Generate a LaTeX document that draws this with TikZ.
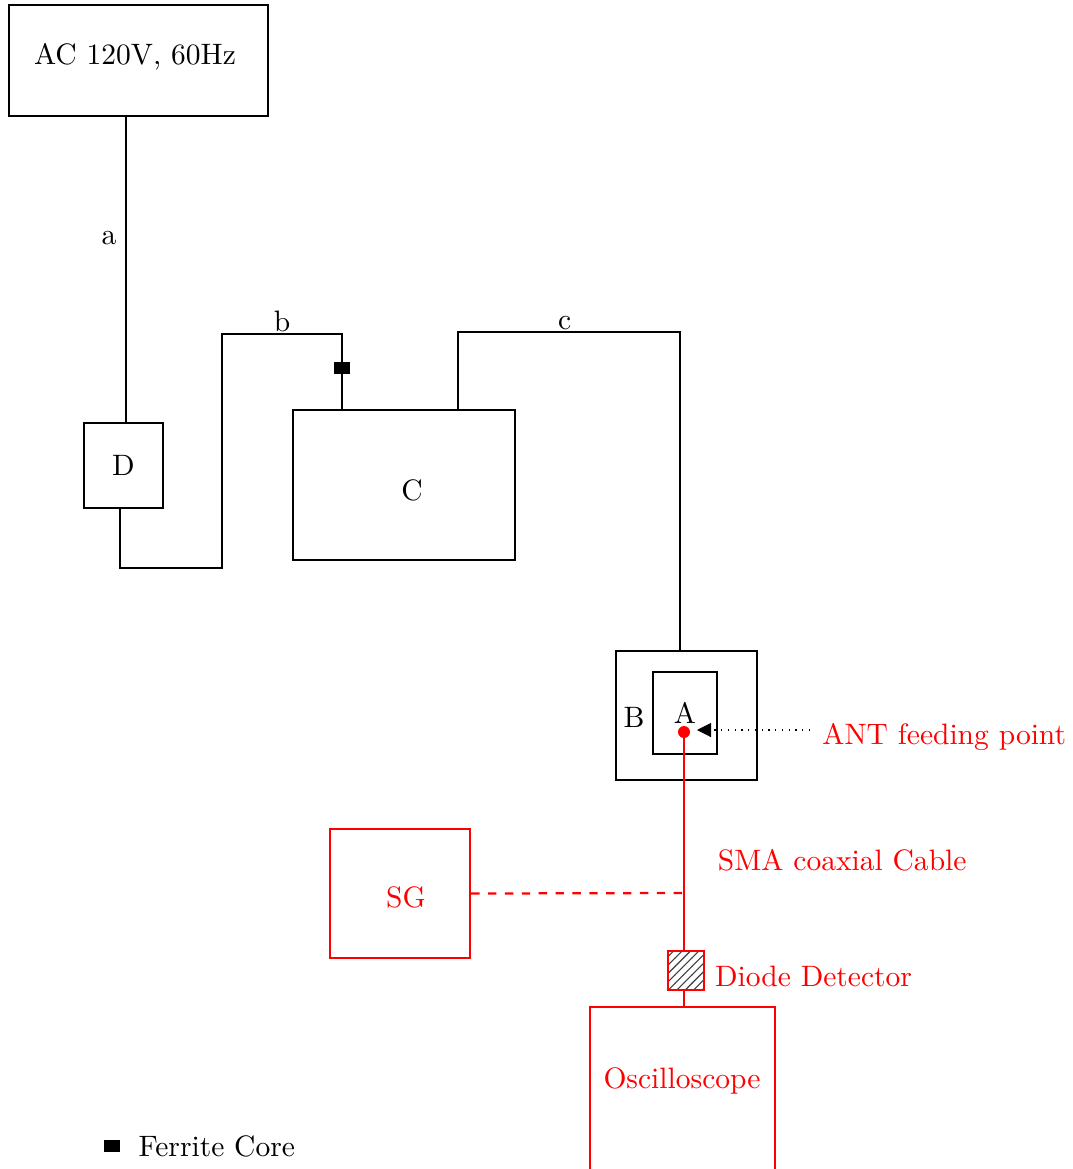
\documentclass[tikz,border=0pt]{standalone}
\usetikzlibrary{arrows.meta, positioning, patterns}

\begin{document}
\begin{tikzpicture}[
    x=0.0125cm, y=-0.0125cm, >=Stealth,
    font=\fontsize{10.5}{13}\selectfont,
    box/.style={draw, line width=0.8pt, inner sep=0pt},
    rfbox/.style={box, draw=red, text=red},
    wire/.style={line width=0.8pt},
    rfwire/.style={wire, red},
    corebox/.style={fill=black, minimum width=0.2cm, minimum height=0.16cm,
                    inner sep=0pt}
  ]
  \useasboundingbox (0,0) rectangle (1072,1169);
  \clip (0,0) rectangle (1072,1169);

  \node[box, minimum width=3.24cm, minimum height=1.39cm] (ac) at (138.5,60.5) {};
  \node (aclabel) at (135,57) {AC 120V, 60Hz};
  \node[box, minimum width=0.99cm, minimum height=1.06cm] (D) at (123.5,465.5) {D};
  \node[box, minimum width=2.78cm, minimum height=1.875cm] (C) at (404,485) {};
  \node (clabel) at (412,490) {C};
  \node[box, minimum width=1.76cm, minimum height=1.61cm] (B) at (686.5,715.5) {};
  \node (blabel) at (634,717) {B};
  \node[box, minimum width=0.8cm, minimum height=1.025cm] (A) at (685,713) {A};
  \node[corebox] (core) at (342,368) {};

  \draw[wire] ([xshift=0.03cm]D.north) -- ([xshift=0.03cm]D.north |- ac.south);
  \node (alabel) at (109,238) {a};

  \coordinate (b0) at (222,568);
  \coordinate (b1) at (222,334);
  \draw[wire] ([xshift=-0.045cm]D.south) |- (b0) -- (b1)
    -| node[pos=0.25, above=-3pt] {b}
    (core.center) -- (core.center |- C.north);

  \coordinate (c0) at (458,332);
  \coordinate (c1) at (680,332);
  \draw[wire] (c0 |- C.north) -- (c0) -- node[pos=0.48, above=-3pt] {c} (c1)
    -- (c1 |- B.north);

  \node[circle, fill=red, inner sep=0pt, minimum size=0.15cm] (dot) at (684,732) {};
  \node[text=red, anchor=east] (ant) at (1076,737) {ANT feeding point};
  \coordinate (feed) at (697,730);
  \coordinate (feedtail) at (810,730);
  \draw[dotted, -{Triangle[length=5pt, width=5pt]}] (feedtail) -- (feed);

  \node[rfbox, minimum width=1.75cm, minimum height=1.61cm] (SG) at (400,893.5) {};
  \node[text=red] (sglabel) at (406,897) {SG};
  \node[rfbox, pattern=north east lines, pattern color=darkgray,
        minimum width=0.45cm, minimum height=0.49cm] (diode) at (686,970.5) {};
  \node[rfbox, minimum width=2.31cm, minimum height=2.5cm, anchor=north]
    (osc) at (682.5,1006) {};
  \node[text=red] (osclabel) at (682,1081) {Oscilloscope};

  \coordinate (tap) at (684,893);
  \draw[rfwire] (dot.center) -- (dot.center |- diode.north);
  \draw[rfwire] (diode.south -| dot) -- (osc.north -| dot);
  \draw[rfwire, dashed] (SG.east) -- (tap);

  \node[text=red, anchor=west] (sma) at (708,860) {SMA coaxial Cable};
  \node[text=red, right=0pt of diode, yshift=-2pt] (diodelabel) {Diode Detector};

  \node[corebox, minimum height=0.15cm] (legcore) at (112,1146) {};
  \node[right=0.1cm of legcore] (legtext) {Ferrite Core};
\end{tikzpicture}
\end{document}
